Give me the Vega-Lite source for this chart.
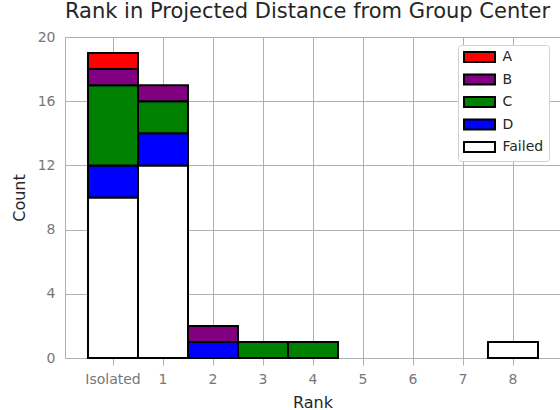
{
  "$schema": "https://vega.github.io/schema/vega-lite/v6.json",
  "width": 495,
  "height": 321,
  "autosize": {"type": "none"},
  "padding": {"left": 65, "top": 37, "right": 0, "bottom": 52},
  "background": "white",
  "title": {
    "text": "Rank in Projected Distance from Group Center",
    "font": "DejaVu Sans",
    "fontSize": 21,
    "fontWeight": "normal",
    "color": "#262626",
    "anchor": "middle",
    "offset": 8,
    "dx": -5
  },
  "data": {
    "values": [
      {"rank": 0, "lo": -0.5, "hi": 0.5, "group": "Failed", "count": 10},
      {"rank": 0, "lo": -0.5, "hi": 0.5, "group": "D", "count": 2},
      {"rank": 0, "lo": -0.5, "hi": 0.5, "group": "C", "count": 5},
      {"rank": 0, "lo": -0.5, "hi": 0.5, "group": "B", "count": 1},
      {"rank": 0, "lo": -0.5, "hi": 0.5, "group": "A", "count": 1},
      {"rank": 1, "lo": 0.5, "hi": 1.5, "group": "Failed", "count": 12},
      {"rank": 1, "lo": 0.5, "hi": 1.5, "group": "D", "count": 2},
      {"rank": 1, "lo": 0.5, "hi": 1.5, "group": "C", "count": 2},
      {"rank": 1, "lo": 0.5, "hi": 1.5, "group": "B", "count": 1},
      {"rank": 2, "lo": 1.5, "hi": 2.5, "group": "D", "count": 1},
      {"rank": 2, "lo": 1.5, "hi": 2.5, "group": "B", "count": 1},
      {"rank": 3, "lo": 2.5, "hi": 3.5, "group": "C", "count": 1},
      {"rank": 4, "lo": 3.5, "hi": 4.5, "group": "C", "count": 1},
      {"rank": 8, "lo": 7.5, "hi": 8.5, "group": "Failed", "count": 1}
    ]
  },
  "mark": {"type": "bar", "stroke": "black", "strokeWidth": 2, "binSpacing": 0},
  "encoding": {
    "x": {
      "field": "lo",
      "type": "quantitative",
      "bin": "binned",
      "scale": {"domain": [-0.95, 8.95], "nice": false, "zero": false},
      "axis": {
        "title": "Rank",
        "grid": true,
        "values": [0, 1, 2, 3, 4, 5, 6, 7, 8],
        "labelExpr": "datum.value == 0 ? 'Isolated' : datum.label",
        "labelFont": "DejaVu Sans",
        "labelFontSize": 14,
        "labelColor": "#777777",
        "labelPadding": 7,
        "labelFlush": false,
        "tickColor": "#b0b0b0",
        "tickSize": 7,
        "domainColor": "#b0b0b0",
        "gridColor": "#b0b0b0",
        "gridWidth": 1,
        "titleFont": "DejaVu Sans",
        "titleFontSize": 16,
        "titleFontWeight": "normal",
        "titleColor": "#262626",
        "titlePadding": 8
      }
    },
    "x2": {"field": "hi"},
    "y": {
      "field": "count",
      "type": "quantitative",
      "stack": "zero",
      "scale": {"domain": [0, 20], "nice": false},
      "axis": {
        "title": "Count",
        "values": [0, 4, 8, 12, 16, 20],
        "ticks": false,
        "labelFont": "DejaVu Sans",
        "labelFontSize": 14,
        "labelColor": "#777777",
        "labelPadding": 10,
        "domainColor": "#b0b0b0",
        "gridColor": "#b0b0b0",
        "gridWidth": 1,
        "titleFont": "DejaVu Sans",
        "titleFontSize": 16,
        "titleFontWeight": "normal",
        "titleColor": "#262626",
        "titlePadding": 10
      }
    },
    "color": {
      "field": "group",
      "type": "nominal",
      "scale": {
        "domain": ["A", "B", "C", "D", "Failed"],
        "range": ["#ff0000", "#800080", "#008000", "#0000ff", "#ffffff"]
      },
      "legend": {
        "title": null,
        "orient": "none",
        "legendX": 393,
        "legendY": 8,
        "symbolType": "M-3.1,-1H3.1V1H-3.1Z",
        "symbolSize": 100,
        "symbolOffset": 9.5,
        "symbolStrokeColor": "black",
        "symbolStrokeWidth": 2,
        "symbolOpacity": 1,
        "labelFont": "DejaVu Sans",
        "labelFontSize": 14,
        "labelColor": "#262626",
        "labelOffset": 16,
        "rowPadding": 4.5,
        "padding": 5,
        "fillColor": "white",
        "strokeColor": "#d0d0d0",
        "cornerRadius": 3
      }
    },
    "order": {"field": "group", "sort": "descending"}
  },
  "config": {
    "view": {"stroke": null},
    "font": "DejaVu Sans"
  }
}
